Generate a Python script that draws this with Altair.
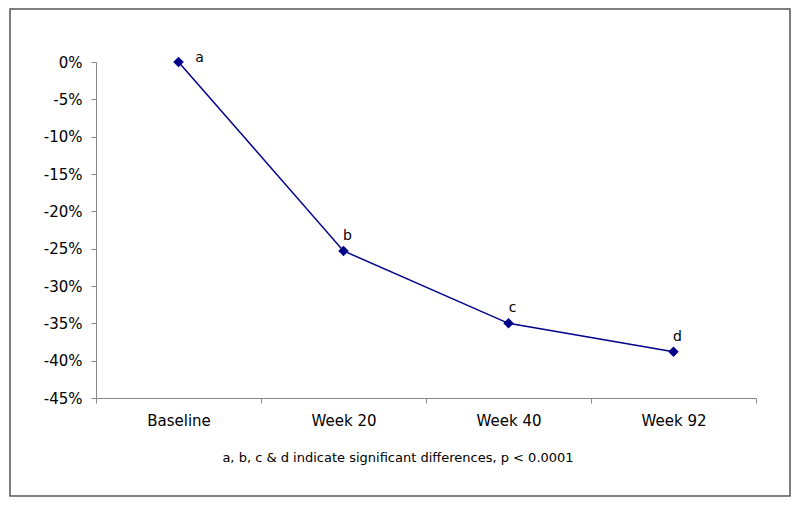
import altair as alt
import pandas as pd

categories = ["Baseline", "Week 20", "Week 40", "Week 92"]
values = [0.0, -25.3, -35.0, -38.8]
letters = ["a", "b", "c", "d"]
y_ticks = [0, -5, -10, -15, -20, -25, -30, -35, -40, -45]
footnote = "a, b, c & d indicate significant differences, p < 0.0001"

df = pd.DataFrame({"cat": categories, "val": values, "lab": letters})

FONT = "DejaVu Sans"
NAVY = "#00008B"

x_enc = alt.X(
    "cat:O",
    sort=categories,
    scale=alt.Scale(type="band", paddingInner=0, paddingOuter=0),
    axis=alt.Axis(
        title=None, labelAngle=0, tickBand="extent", tickSize=5, grid=False,
        labelPadding=10, labelFontSize=15, labelFont=FONT, labelColor="black",
        domainColor="#888888", tickColor="#888888", labelFlush=False,
    ),
)
y_enc = alt.Y(
    "val:Q",
    scale=alt.Scale(domain=[-45, 0], nice=False, zero=False),
    axis=alt.Axis(
        title=None, values=y_ticks, labelExpr="datum.value + '%'",
        tickSize=5, labelPadding=9, labelFontSize=15, labelFont=FONT,
        labelColor="black", domainColor="#888888", tickColor="#888888",
        grid=False,
    ),
)

base = alt.Chart(df)

line = base.mark_line(color=NAVY, strokeWidth=1.5).encode(x=x_enc, y=y_enc)
pts = base.mark_point(shape="diamond", filled=True, color=NAVY, size=110, opacity=1).encode(x=x_enc, y=y_enc)

lab_a = base.transform_filter("datum.lab == 'a'").mark_text(
    font=FONT, fontSize=14, color="black", dx=21, dy=-4
).encode(x=x_enc, y=y_enc, text="lab:N")
lab_rest = base.transform_filter("datum.lab != 'a'").mark_text(
    font=FONT, fontSize=14, color="black", dx=4, dy=-15
).encode(x=x_enc, y=y_enc, text="lab:N")

note = alt.Chart(pd.DataFrame({"t": [footnote]})).mark_text(
    font=FONT, fontSize=13, color="black", align="center", baseline="middle"
).encode(x=alt.value(302), y=alt.value(396), text="t:N")

frame = alt.Chart(pd.DataFrame({"k": [0]})).mark_rect(
    fill=None, stroke="#555555", strokeWidth=1.5
).encode(x=alt.value(-86), x2=alt.value(694), y=alt.value(-53), y2=alt.value(434))

chart = alt.layer(frame, line, pts, lab_a, lab_rest, note).properties(
    width=660, height=336,
    background="white",
    autosize=alt.AutoSizeParams(type="none"),
    padding={"left": 88, "top": 54, "right": 36, "bottom": 100},
).configure_view(strokeWidth=0)

chart.save("out.html", embed_options={"renderer": "svg", "actions": False})
